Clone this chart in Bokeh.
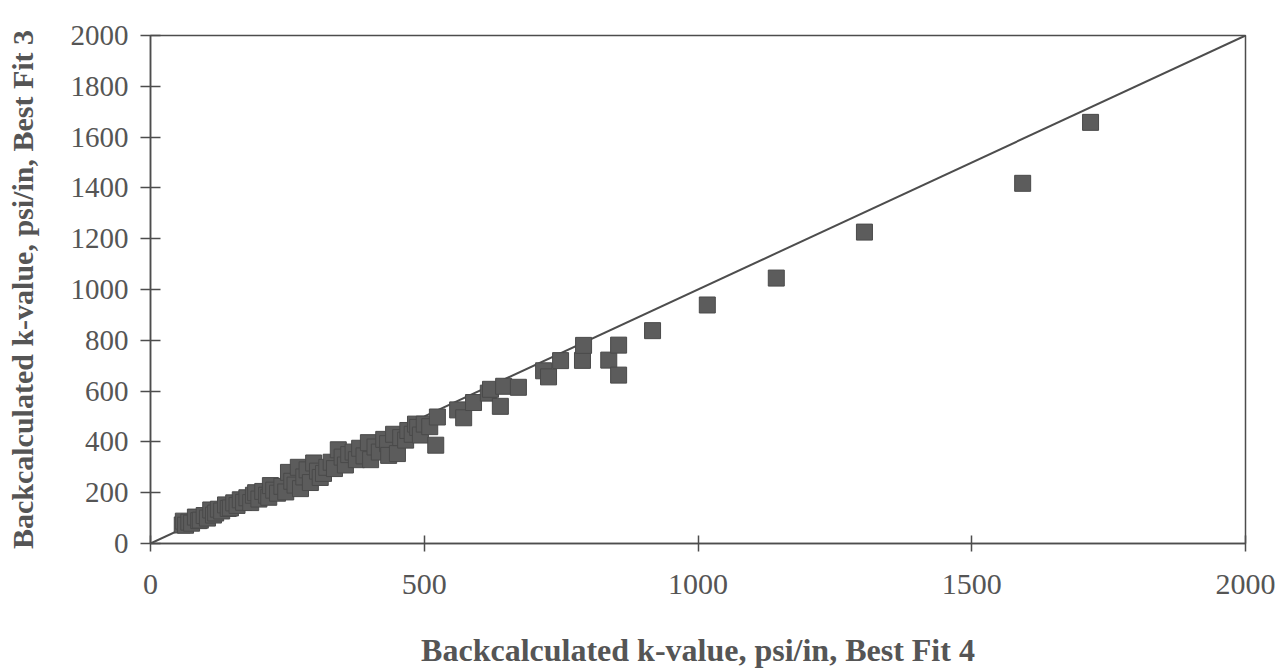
from bokeh.plotting import figure
from bokeh.models import Range1d, FixedTicker
from bokeh.embed import file_html
from bokeh.resources import INLINE

# Backcalculated k-values (psi/in): Best Fit 4 (x) vs Best Fit 3 (y)
k_best_fit_4 = [
    58, 60, 64, 70, 75, 82, 88, 91, 98, 104,
    110, 115, 119, 124, 130, 137, 142, 146, 152, 158,
    164, 170, 176, 183, 188, 192, 198, 205, 212, 216,
    219, 225, 232, 240, 247, 252, 258, 264, 270, 274,
    280, 286, 292, 298, 305, 310, 316, 322, 330, 336,
    343, 350, 356, 362, 370, 376, 382, 390, 398, 402,
    410, 418, 426, 433, 435, 444, 451, 457, 466, 470,
    478, 484, 488, 493, 500, 510, 521, 524, 561, 572,
    590, 617, 621, 639, 645, 672,
    718, 727, 749, 789, 791, 837, 855, 855, 917, 1017,
    1143, 1304, 1593, 1717,
]
k_best_fit_3 = [
    73, 88, 72, 84, 80, 104, 90, 92, 110, 100,
    132, 112, 120, 135, 128, 152, 138, 140, 160, 150,
    172, 162, 180, 161, 190, 200, 175, 205, 190, 182,
    228, 210, 198, 225, 203, 280, 245, 230, 300, 216,
    262, 290, 240, 317, 285, 260, 276, 300, 320, 295,
    369, 340, 309, 350, 360, 330, 375, 345, 397, 330,
    380, 360, 410, 393, 347, 430, 354, 417, 407, 445,
    430, 470, 457, 427, 470, 460, 387, 498, 526, 495,
    555, 592, 607, 540, 619, 615,
    680, 656, 720, 721, 780, 722, 781, 663, 838, 939,
    1045, 1226, 1418, 1658,
]

# line of equality
equality_x = [0, 2000]
equality_y = [0, 2000]

x_ticks = [0, 500, 1000, 1500, 2000]
y_ticks = [0, 200, 400, 600, 800, 1000, 1200, 1400, 1600, 1800, 2000]

INK = "#4d4d4d"
TEXT = "#555555"
SERIF = "Liberation Serif"

p = figure(
    width=1281, height=671,
    x_range=Range1d(0, 2000), y_range=Range1d(0, 2000),
    output_backend="svg", toolbar_location=None,
    min_border_left=150, min_border_right=36,
    min_border_top=35, min_border_bottom=128,
    background_fill_color="white", border_fill_color="white",
)
p.outline_line_color = INK
p.outline_line_width = 1.5
p.xgrid.visible = False
p.ygrid.visible = False

p.line(equality_x, equality_y, line_color=INK, line_width=2)
p.scatter(k_best_fit_4, k_best_fit_3, marker="square", size=16,
          fill_color="#5c5c5c", line_color="#4a4a4a", line_width=1)

xa = p.xaxis[0]
xa.ticker = FixedTicker(ticks=x_ticks)
xa.axis_label = "Backcalculated k-value, psi/in, Best Fit 4"
xa.axis_label_text_font = SERIF
xa.axis_label_text_font_style = "bold"
xa.axis_label_text_font_size = "32px"
xa.axis_label_text_color = TEXT
xa.axis_label_standoff = 35
xa.major_label_text_font = SERIF
xa.major_label_text_font_size = "30px"
xa.major_label_text_color = TEXT
xa.major_label_standoff = 23
xa.major_tick_in = 8
xa.major_tick_out = 8
xa.minor_tick_line_color = None
xa.axis_line_color = INK
xa.axis_line_width = 1.5
xa.major_tick_line_color = INK
xa.major_tick_line_width = 1.5

ya = p.yaxis[0]
ya.ticker = FixedTicker(ticks=y_ticks)
ya.axis_label = "Backcalculated k-value, psi/in, Best Fit 3"
ya.axis_label_text_font = SERIF
ya.axis_label_text_font_style = "bold"
ya.axis_label_text_font_size = "30px"
ya.axis_label_text_color = TEXT
ya.axis_label_standoff = 29
ya.major_label_text_font = SERIF
ya.major_label_text_font_size = "29px"
ya.major_label_text_color = TEXT
ya.major_label_standoff = 12
ya.major_tick_in = 10
ya.major_tick_out = 10
ya.minor_tick_line_color = None
ya.axis_line_color = INK
ya.axis_line_width = 1.5
ya.major_tick_line_color = INK
ya.major_tick_line_width = 1.5

open("out.html", "w").write(file_html(p, INLINE))
